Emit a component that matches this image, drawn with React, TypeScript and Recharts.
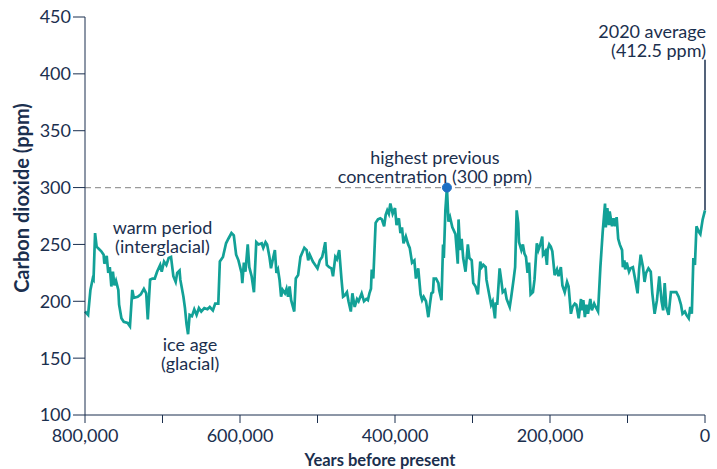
import * as React from 'react'
import {
  Label,
  Line,
  LineChart,
  ReferenceDot,
  ReferenceLine,
  XAxis,
  YAxis,
} from 'recharts'

const NAVY = '#1b2f4e'
const TEAL = '#12a197'
const BLUE = '#1c6fc4'

// thousands of years before present
const yearsKa = [
  800, 796, 793, 790, 789, 787, 785, 782, 779, 776, 775, 772, 770, 768, 766, 764, 762, 760, 757, 756,
  753, 750, 745, 742, 739, 737, 732, 728, 724, 721, 719, 716, 713, 710, 707, 703, 701, 698, 695, 692,
  689, 686, 683, 681, 678, 677, 673, 671, 669, 667, 665, 662, 659, 656, 653, 650, 646, 642, 639,
  635, 632, 628, 626, 622, 618, 615, 611, 608, 605, 602, 598, 597, 595, 593, 590, 588, 585, 582, 579,
  576, 572, 570, 567, 565, 562, 560, 557, 555, 553, 551, 549, 547, 545, 542, 540, 538, 536, 534, 530,
  528, 525, 522, 517, 514, 512, 510, 506, 503, 500, 497, 494, 492, 490, 488, 485, 482, 480,
  477, 475, 472, 469, 467, 465, 462, 460, 457, 455, 452, 449, 447, 443, 440, 437, 435, 433, 431, 430,
  428, 425, 422, 419, 417, 414, 412, 410, 408, 406, 403, 400, 398, 395, 393, 391, 389, 386, 383, 381,
  378, 375, 373, 370, 367, 365, 363, 360, 357, 355, 353, 351, 350, 347, 344, 343, 340, 338, 337, 335,
  333, 331, 329, 326, 322,
  319, 318, 316, 314, 312, 309, 306, 304, 301, 299, 296, 293, 290, 288, 286, 283, 282, 279, 276, 274,
  271, 270, 268, 265, 263, 261, 258, 256, 252, 250, 247, 245, 243, 241, 240, 237, 235, 233, 231, 229,
  227, 225, 222, 220, 217, 215, 212, 210, 209, 206, 204, 203, 201, 199, 197, 194, 191, 189, 186, 184,
  181, 178, 176, 173, 171, 168, 166, 163, 160,
  159, 157, 155, 153, 151, 148, 146, 143, 141, 138, 135, 132, 129, 128, 126, 124, 123, 120, 118, 116,
  114, 112, 110, 107, 106, 104, 103, 101, 98, 96, 93, 90, 87, 85, 83, 80, 78, 76, 73, 70,
  68, 65, 62, 59, 56, 54, 52, 50, 47, 44, 41, 37, 34, 31, 29, 26, 24, 21, 19, 17,
  15, 13, 11, 8, 6, 3, 0,
]

// ppm
const co2 = [
  191, 188, 210, 220, 219, 260, 248, 246, 244, 241, 233, 240, 225, 230, 213, 226, 214, 218, 210, 197,
  185, 182, 181, 178, 210, 203, 204, 206, 211, 207, 184, 219, 220, 220, 226, 232, 226, 235, 232, 238,
  239, 222, 217, 225, 227, 219, 204, 194, 180, 171, 188, 187, 193, 188, 194, 191, 194, 193, 195,
  192, 198, 198, 235, 239, 251, 255, 260, 258, 241, 236, 225, 216, 234, 226, 250, 230, 222, 208, 252,
  250, 251, 247, 252, 250, 239, 229, 239, 245, 225, 228, 219, 204, 210, 207, 211, 204, 213, 201, 191,
  220, 223, 239, 247, 245, 236, 241, 235, 232, 229, 236, 239, 245, 252, 232, 230, 229, 222,
  239, 237, 245, 219, 204, 205, 208, 200, 191, 207, 195, 202, 200, 207, 200, 202, 201, 207, 211, 228,
  220, 269, 272, 273, 272, 266, 276, 280, 277, 286, 277, 282, 267, 273, 260, 265, 251, 257, 250, 247,
  234, 236, 220, 229, 206, 201, 204, 200, 186, 197, 207, 208, 220, 220, 216, 210, 201, 250, 238, 280,
  300, 270, 274, 265, 259,
  233, 272, 245, 255, 238, 226, 250, 238, 236, 216, 213, 206, 235, 230, 232, 230, 219, 208, 197, 200,
  185, 198, 198, 229, 219, 208, 210, 202, 195, 204, 219, 230, 280, 269, 252, 245, 250, 242, 239, 225,
  234, 206, 208, 219, 251, 245, 251, 257, 241, 244, 232, 245, 250, 248, 244, 223, 228, 222, 230, 214,
  208, 217, 213, 189, 195, 198, 197, 185, 202,
  192, 201, 186, 197, 189, 202, 192, 198, 195, 191, 230, 261, 286, 265, 282, 267, 279, 266, 273, 266,
  274, 255, 250, 245, 230, 236, 228, 234, 226, 229, 230, 219, 207, 228, 241, 230, 217, 225, 229, 226,
  207, 189, 201, 222, 200, 192, 216, 195, 188, 208, 208, 208, 204, 197, 189, 191, 188, 185, 195, 189,
  238, 232, 266, 261, 259, 272, 280,
]

const yTicks = [100, 150, 200, 250, 300, 350, 400, 450]
const xTicks = [0, 100000, 200000, 300000, 400000, 500000, 600000, 700000, 800000]

const previousHigh = { year: 333000, ppm: 300 }
const average2020 = 412.5

const data = yearsKa.map((k, i) => ({ year: k * 1000, co2: co2[i] }))

const Note = ({ viewBox, lines, dx = 0, dy = 0, anchor = 'middle' }: any) => {
  const x = viewBox.x + (viewBox.width || 0) / 2 + dx
  const y = viewBox.y + (viewBox.height || 0) / 2 + dy
  return (
    <text x={x} y={y} textAnchor={anchor} fill={NAVY} fontSize={18}>
      {lines.map((l: string, i: number) => (
        <tspan key={i} x={x} dy={i ? 19 : 0}>
          {l}
        </tspan>
      ))}
    </text>
  )
}

const YTitle = ({ viewBox }: any) => {
  const cy = viewBox.y + viewBox.height / 2 - 18
  return (
    <text
      x={21}
      y={cy}
      transform={`rotate(-90 21 ${cy})`}
      textAnchor="middle"
      dominantBaseline="central"
      fill={NAVY}
      fontSize={20}
      fontWeight={700}
    >
      Carbon dioxide (ppm)
    </text>
  )
}

const XTitle = ({ viewBox }: any) => (
  <text
    x={viewBox.x + viewBox.width / 2 - 15}
    y={466}
    textAnchor="middle"
    fill={NAVY}
    fontSize={16.5}
    fontWeight={700}
  >
    Years before present
  </text>
)

export default function App() {
  return (
    <div
      style={{
        position: 'absolute',
        left: 0,
        top: 0,
        width: 717,
        height: 469,
        background: '#fff',
        fontFamily: 'Lato, sans-serif',
      }}
    >
      <LineChart
        width={717}
        height={469}
        data={data}
        margin={{ top: 17, right: 12, bottom: 0, left: 0 }}
      >
        <XAxis
          dataKey="year"
          type="number"
          domain={[0, 800000]}
          reversed
          ticks={xTicks}
          interval={0}
          height={54}
          tickFormatter={(v: number) => (v % 200000 === 0 ? v.toLocaleString('en-US') : '')}
          stroke={NAVY}
          tickSize={8}
          tickMargin={6}
          tick={{ fill: NAVY, fontSize: 18 }}
        >
          <Label content={<XTitle />} />
        </XAxis>
        <YAxis
          type="number"
          domain={[100, 450]}
          ticks={yTicks}
          interval={0}
          width={85}
          stroke={NAVY}
          tickSize={12}
          tickMargin={2}
          tick={{ fill: NAVY, fontSize: 18 }}
        >
          <Label content={<YTitle />} />
        </YAxis>
        <ReferenceLine y={previousHigh.ppm} stroke="#9b9b9b" strokeDasharray="6 4" strokeWidth={1.3} />
        <ReferenceLine
          segment={[
            { x: 0, y: co2[co2.length - 1] },
            { x: 0, y: average2020 },
          ]}
          stroke={NAVY}
          strokeWidth={1.5}
        />
        <Line
          dataKey="co2"
          type="linear"
          stroke={TEAL}
          strokeWidth={2.7}
          dot={false}
          isAnimationActive={false}
        />
        <ReferenceDot
          x={previousHigh.year}
          y={previousHigh.ppm}
          r={4.5}
          fill={BLUE}
          stroke={BLUE}
          label={<Note lines={['highest previous', 'concentration (300 ppm)']} dx={-12} dy={-24} />}
        />
        <ReferenceDot
          x={0}
          y={average2020}
          r={0}
          fill="none"
          stroke="none"
          label={<Note lines={['2020 average', '(412.5 ppm)']} dx={1} dy={-22} anchor="end" />}
        />
        <ReferenceDot
          x={700000}
          y={260}
          r={0}
          fill="none"
          stroke="none"
          label={<Note lines={['warm period', '(interglacial)']} dy={1} />}
        />
        <ReferenceDot
          x={667000}
          y={171}
          r={0}
          fill="none"
          stroke="none"
          label={<Note lines={['ice age', '(glacial)']} dx={2} dy={17} />}
        />
      </LineChart>
    </div>
  )
}
